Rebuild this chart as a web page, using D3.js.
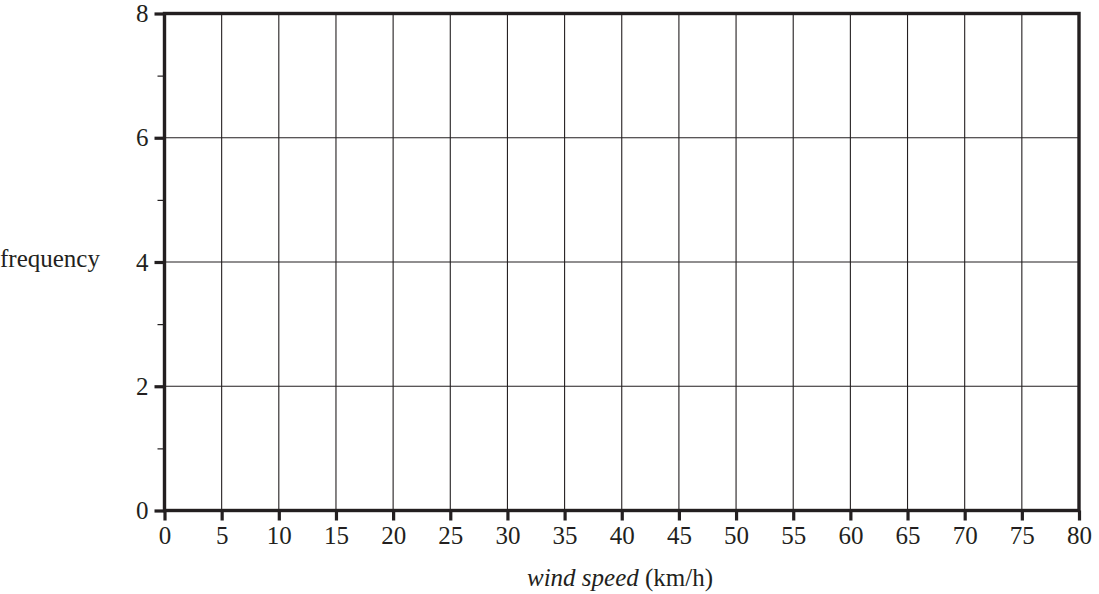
<!DOCTYPE html>
<html>
<head>
<meta charset="utf-8">
<script src="https://cdn.jsdelivr.net/npm/d3@7"></script>
<style>
  html, body { margin: 0; padding: 0; background: #fff; }
  svg { display: block; }
  text { font-family: "Liberation Serif", "Times New Roman", serif; fill: #231f20; }
</style>
</head>
<body>
<svg id="chart" width="1099" height="594"></svg>
<script>
// Data (empty grid: axes only)
const xTicks = [0, 5, 10, 15, 20, 25, 30, 35, 40, 45, 50, 55, 60, 65, 70, 75, 80];
const yMajorTicks = [0, 2, 4, 6, 8];
const yMinorTicks = [1, 3, 5, 7];
const xDomain = [0, 80];
const yDomain = [0, 8];
const yLabel = "frequency";
const xLabelItalic = "wind speed";
const xLabelUnit = " (km/h)";

const svg = d3.select("#chart");
const ink = "#231f20";
const fs = 25;

const x = d3.scaleLinear().domain(xDomain).range([164.5, 1079]);
const y = d3.scaleLinear().domain(yDomain).range([510.5, 13.5]);

// grid lines
const grid = svg.append("g");
grid.selectAll("line.v").data(xTicks.slice(1, -1)).join("line")
  .attr("x1", d => x(d)).attr("x2", d => x(d))
  .attr("y1", y(8)).attr("y2", y(0))
  .attr("stroke", ink).attr("stroke-width", 1.1);
grid.selectAll("line.h").data(yMajorTicks.slice(1, -1)).join("line")
  .attr("x1", x(0)).attr("x2", x(80))
  .attr("y1", d => y(d)).attr("y2", d => y(d))
  .attr("stroke", ink).attr("stroke-width", 1.1);

// x axis (bottom)
const xAxis = d3.axisBottom(x).tickValues(xTicks).tickSize(10).tickPadding(6).tickFormat(d3.format("d"));
const gx = svg.append("g").attr("transform", `translate(0,${y(0)})`).call(xAxis);
gx.attr("font-family", null).attr("font-size", fs);
gx.select(".domain").remove();
gx.selectAll(".tick line").attr("stroke", ink).attr("stroke-width", 3.2);
gx.selectAll(".tick text").attr("fill", ink);

// y axis major
const yAxis = d3.axisLeft(y).tickValues(yMajorTicks).tickSize(10).tickPadding(6).tickFormat(d3.format("d"));
const gy = svg.append("g").attr("transform", `translate(${x(0)},0)`).call(yAxis);
gy.attr("font-family", null).attr("font-size", fs);
gy.select(".domain").remove();
gy.selectAll(".tick line").attr("stroke", ink).attr("stroke-width", 3.2);
gy.selectAll(".tick text").attr("fill", ink);

// y axis minor
const yAxisMinor = d3.axisLeft(y).tickValues(yMinorTicks).tickSize(7).tickFormat("");
const gym = svg.append("g").attr("transform", `translate(${x(0)},0)`).call(yAxisMinor);
gym.select(".domain").remove();
gym.selectAll(".tick line").attr("stroke", ink).attr("stroke-width", 1.2);

// frame
svg.append("rect")
  .attr("x", x(0)).attr("y", y(8))
  .attr("width", x(80) - x(0)).attr("height", y(0) - y(8))
  .attr("fill", "none").attr("stroke", ink).attr("stroke-width", 3.4);

// axis labels
svg.append("text")
  .attr("x", 0).attr("y", 267)
  .attr("font-size", fs)
  .text(yLabel);

const xl = svg.append("text")
  .attr("x", 620).attr("y", 586)
  .attr("text-anchor", "middle")
  .attr("font-size", fs);
xl.append("tspan").attr("font-style", "italic").text(xLabelItalic);
xl.append("tspan").text(xLabelUnit);
</script>
</body>
</html>
